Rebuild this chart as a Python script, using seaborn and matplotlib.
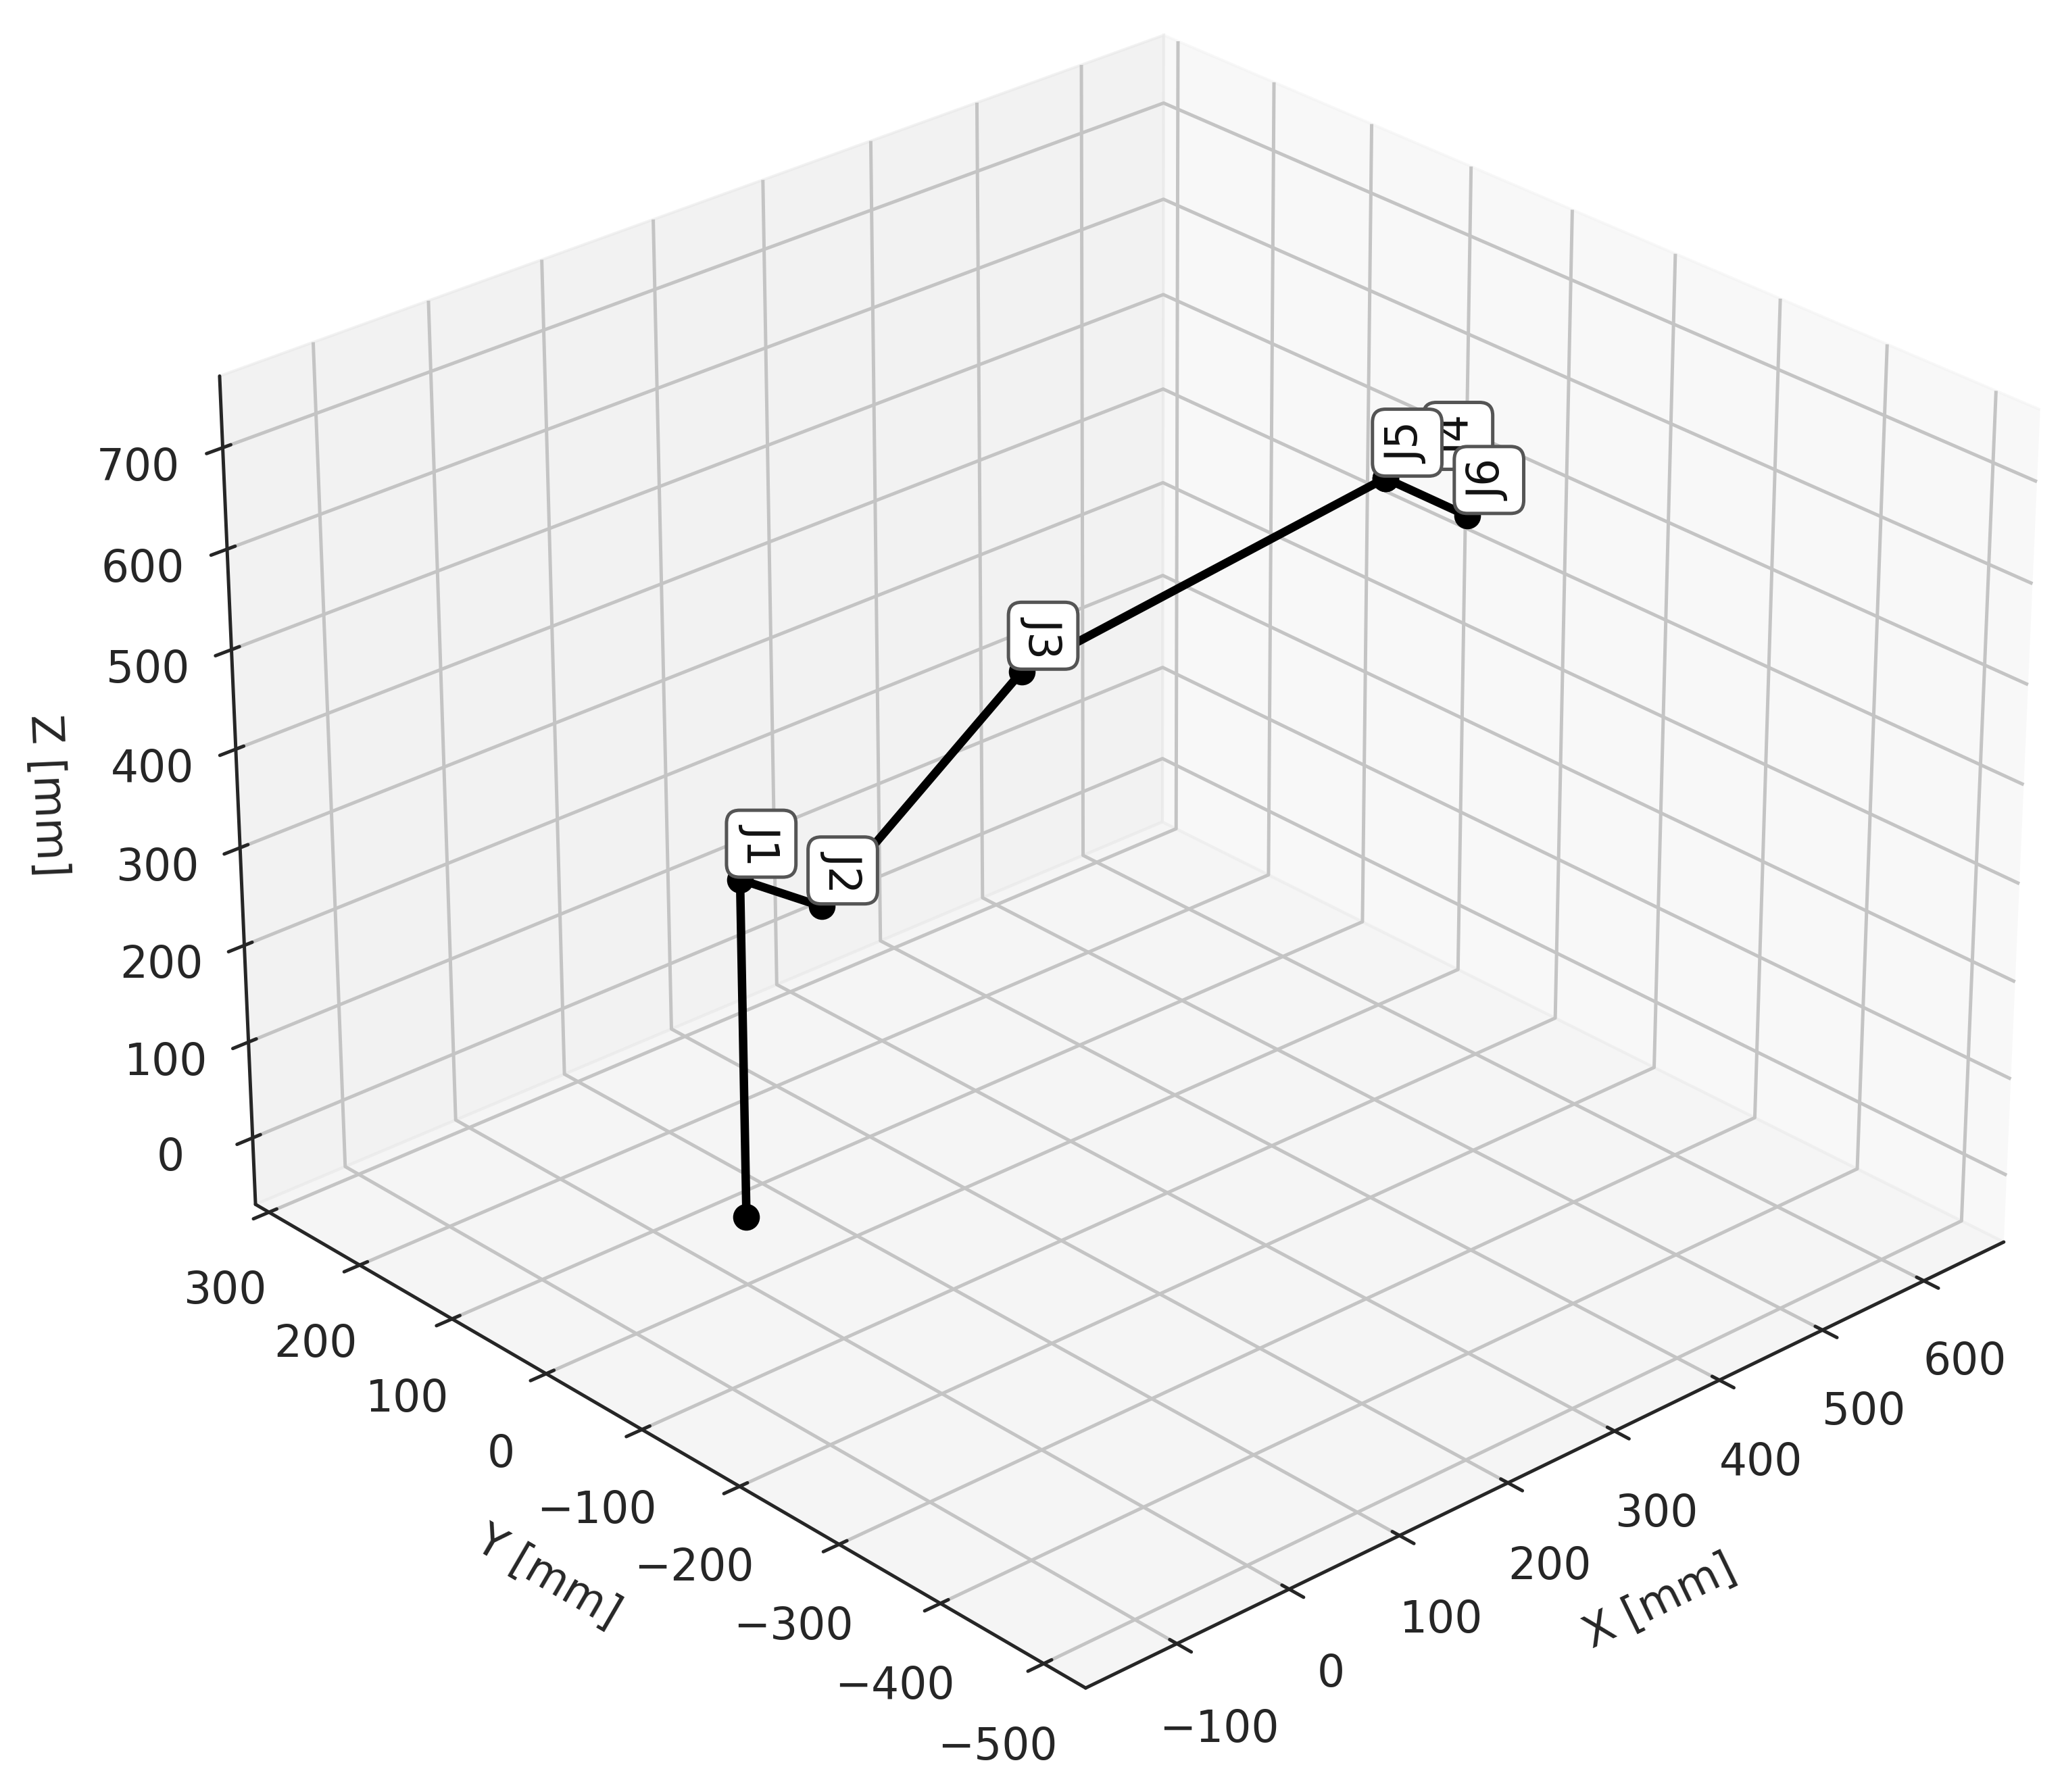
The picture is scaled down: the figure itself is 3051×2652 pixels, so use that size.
import matplotlib
matplotlib.use("Agg")
import matplotlib.pyplot as plt
import seaborn as sns
from mpl_toolkits.mplot3d import proj3d

sns.set_style("white")
plt.rcParams["grid.color"] = "#c4c4c4"
plt.rcParams["grid.linewidth"] = 1.2
plt.rcParams["axes.linewidth"] = 1.2
plt.rcParams["xtick.major.width"] = 1.2
plt.rcParams["ytick.major.width"] = 1.2

# joint positions, in mm
joint_x = [0, 0, 15, 200, 540, 540, 540]
joint_y = [0, 0, -66, -62, -62, -62, -143]
joint_z = [0, 345, 345, 493, 540, 540, 540]
joint_labels = ["", "J1", "J2", "J3", "J4", "J5", "J6"]
# J1-J3 read downwards, J4-J6 read upwards
label_rotation = [0, -90, -90, -90, 90, 90, 90]
# J4 sits on J5, its tag is pushed aside
label_shift_y = [0, 0, 0, 0, -50, 0, 0]
label_shift_z = [0, 0, 0, 0, 30, 0, 0]

x_ticks = [-100, 0, 100, 200, 300, 400, 500, 600]
y_ticks = [-500, -400, -300, -200, -100, 0, 100, 200, 300]
z_ticks = [0, 100, 200, 300, 400, 500, 600, 700]

fig = plt.figure(figsize=(10.173, 8.843), dpi=300)
ax = fig.add_subplot(111, projection="3d")
ax.set_position([-0.012, -0.016, 1.091, 1.091])
ax.set_box_aspect((4, 4, 2.96))
ax.view_init(elev=27.3, azim=-132.5)

ax.plot(joint_x, joint_y, joint_z, color="black", lw=3, marker="o", ms=8.5)

ax.set_xlim(-180, 680)
ax.set_ylim(-540, 315)
ax.set_zlim(-70, 770)
ax.set_xticks(x_ticks)
ax.set_yticks(y_ticks)
ax.set_zticks(z_ticks)
ax.tick_params(labelsize=15.5, pad=9)
ax.set_xlabel("X [mm]", fontsize=15.5, labelpad=19)
ax.set_ylabel("Y [mm]", fontsize=15.5, labelpad=19)
ax.set_zlabel("Z [mm]", fontsize=15.5, labelpad=18)

# tags stay truly vertical, so place them in 2D from the projected joint
proj = ax.get_proj()
for i, name in enumerate(joint_labels):
    if name:
        x2, y2, _ = proj3d.proj_transform(joint_x[i], joint_y[i] + label_shift_y[i],
                                          joint_z[i] + label_shift_z[i] + 25, proj)
        ax.text2D(x2, y2, name, transform=ax.transData, rotation=label_rotation[i],
                  fontsize=15.5, color="#111111",
                  bbox=dict(boxstyle="round", fc="white", ec="#555555", lw=1.2))

fig.savefig("out.png", dpi=300)
